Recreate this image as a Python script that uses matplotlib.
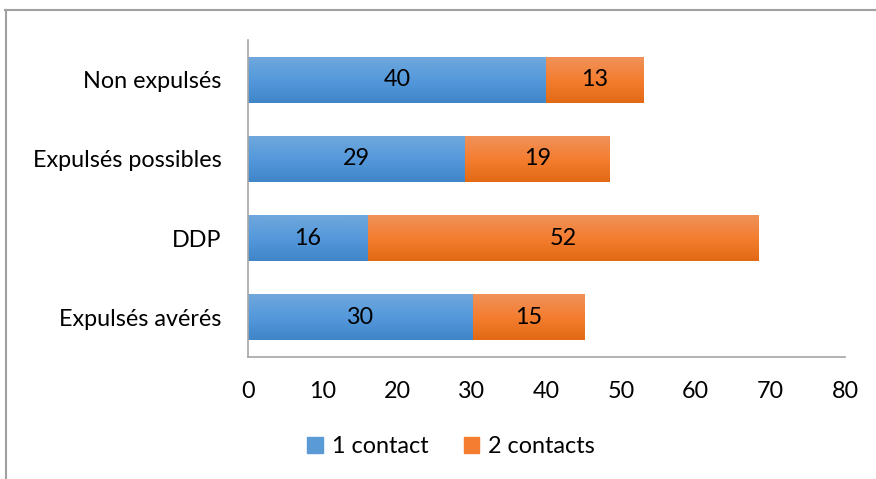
import matplotlib.pyplot as plt
import numpy as np
from matplotlib.colors import LinearSegmentedColormap
from matplotlib.lines import Line2D

categories = ["Expulsés avérés", "DDP", "Expulsés possibles", "Non expulsés"]
one_contact = [30.2, 16.1, 29.1, 40.0]
two_contacts = [14.9, 52.3, 19.4, 13.0]
series_names = ["1 contact", "2 contacts"]
xticks = [0, 10, 20, 30, 40, 50, 60, 70, 80]

plt.rcParams['font.family'] = ['Lato', 'DejaVu Sans']
fs = 16.8

fig = plt.figure(figsize=(8.76, 4.79), dpi=100)
ax = fig.add_axes([0.2831, 0.2547, 0.6815, 0.6618])

blue_cmap = LinearSegmentedColormap.from_list("b", ["#3f85c8", "#5599dc", "#6fa8dc"])
orange_cmap = LinearSegmentedColormap.from_list("o", ["#e26a15", "#f47d30", "#f0925a"])

y = np.arange(len(categories))
h = 0.58
b1 = ax.barh(y, one_contact, height=h, color="#5b9bd5", edgecolor="none")
b2 = ax.barh(y, two_contacts, left=one_contact, height=h, color="#ed7d31", edgecolor="none")

grad = np.linspace(0, 1, 100).reshape(-1, 1)
for bars, cmap in [(b1, blue_cmap), (b2, orange_cmap)]:
    for bar in bars:
        x0, y0 = bar.get_x(), bar.get_y()
        im = ax.imshow(grad, cmap=cmap, aspect="auto", origin="lower",
                       extent=[x0, x0 + bar.get_width(), y0, y0 + bar.get_height()],
                       zorder=bar.get_zorder() + 0.1)
        im.set_clip_path(bar)

for i in range(len(categories)):
    ax.text(one_contact[i] / 2, y[i], "%.0f" % one_contact[i], ha="center", va="center",
            fontsize=fs, color="black", zorder=5)
    ax.text(one_contact[i] + two_contacts[i] / 2, y[i], "%.0f" % two_contacts[i], ha="center",
            va="center", fontsize=fs, color="black", zorder=5)

ax.set_xlim(0, 80)
ax.set_ylim(-0.5, 3.5)
ax.set_xticks(xticks)
ax.set_yticks(y)
ax.set_yticklabels(categories)
ax.tick_params(axis="both", length=0, labelsize=fs, colors="black")
ax.tick_params(axis="x", pad=17)
ax.tick_params(axis="y", pad=19)
for s in ["top", "right"]:
    ax.spines[s].set_visible(False)
for s in ["left", "bottom"]:
    ax.spines[s].set_color("#a6a6a6")
    ax.spines[s].set_linewidth(1.2)

handles = [plt.Rectangle((0, 0), 1, 1, color="#5b9bd5"),
           plt.Rectangle((0, 0), 1, 1, color="#f47d30")]
fig.legend(handles, series_names, loc="center", bbox_to_anchor=(0.515, 0.067), ncol=2,
           frameon=False, fontsize=fs, handlelength=0.65, handleheight=0.65,
           handletextpad=0.4, columnspacing=1.5)

# chart border (cropped)
fig.add_artist(Line2D([5 / 876, 1], [1 - 10 / 479, 1 - 10 / 479], color="#a0a0a0", lw=1.5))
fig.add_artist(Line2D([6 / 876, 6 / 876], [0, 1 - 10 / 479], color="#a0a0a0", lw=1.5))

fig.savefig("out.png", dpi=100)
